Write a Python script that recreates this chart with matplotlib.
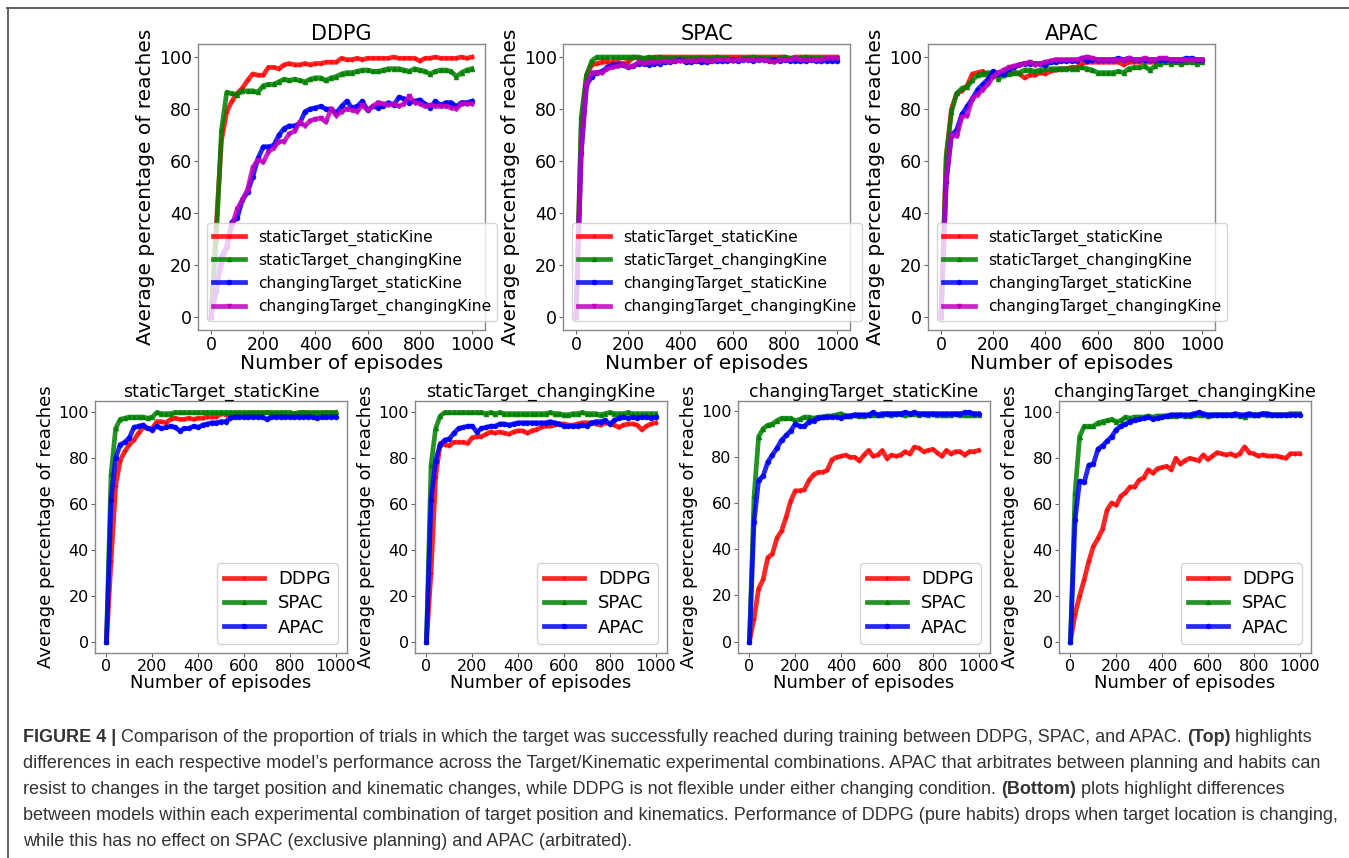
import numpy as np
import matplotlib
matplotlib.use("Agg")
import matplotlib.pyplot as plt
from matplotlib.lines import Line2D

# episodes (every 20)
episodes = np.arange(0, 1001, 20)

conditions = ["staticTarget_staticKine", "staticTarget_changingKine",
              "changingTarget_staticKine", "changingTarget_changingKine"]
models = ["DDPG", "SPAC", "APAC"]

# DDPG
ddpg_ss = [0, 35, 68, 79, 83, 86, 88, 91, 93.5, 93, 93, 96, 96, 95.5, 97, 97.5, 97, 97, 97.5, 97,
           97.5, 97.5, 98, 98, 98, 99.5, 99, 99, 99.5, 99, 99.5, 99.5, 99.5, 99.5, 99.5, 100, 99.5,
           99.5, 99.5, 99.5, 98.5, 99.5, 99.5, 100, 99.5, 99.5, 99.5, 99.5, 100, 99.5, 100]
ddpg_sc = [0, 30, 72, 86.5, 86, 85.5, 87, 87, 87, 86.5, 89, 89.5, 89.5, 90.5, 91.5, 91, 91.5, 91,
           90.5, 91.5, 92, 92, 91, 92, 92.5, 93.5, 94, 94, 94.5, 95, 95, 94.5, 94.5, 95, 95.5, 95.5,
           95.5, 95, 94.5, 95.5, 95, 94.5, 93.5, 94.5, 95, 95, 94.5, 92.5, 94, 95, 95.5]
ddpg_cs = [0, 10, 23, 27, 36.5, 38, 45, 48, 54, 61, 65.5, 65.5, 66, 70, 72.5, 73.5, 73.5, 74.5, 79,
           80, 80.5, 81, 80, 80, 78.5, 81, 83, 80.5, 81, 83, 79.5, 81, 80.5, 81, 82.5, 81.5, 84.5,
           84, 82.5, 83, 83.5, 82, 80.5, 83, 81.5, 82.5, 82.5, 81, 82.5, 82.5, 83]
ddpg_cc = [0, 12, 20, 27, 35, 41.5, 45, 49, 57.5, 60.5, 59.5, 63.5, 65, 67.5, 67.5, 70.5, 71.5, 75,
           73.5, 75.5, 76, 76.5, 75, 80, 77.5, 79, 80, 79.5, 79, 81.5, 79.5, 81, 82.5, 82, 81.5, 82,
           81, 82, 85, 82.5, 82, 81, 81.5, 81, 81, 81, 80.5, 80, 82, 82, 82]

# SPAC
spac_ss = [0, 73, 93, 97, 97.5, 98, 98, 98, 98, 97.5, 98, 100, 99.5, 99.5, 99.5, 100, 100, 100, 100,
           100, 100, 100, 100, 100, 100, 100, 100, 100, 100, 100, 100, 100, 100, 100, 100, 100, 100,
           100, 100, 100, 100, 99.5, 100, 100, 100, 100, 100, 100, 100, 100, 100]
spac_sc = [0, 77, 93, 98.5, 100, 100, 100, 100, 100, 100, 100, 100, 100, 99.5, 100, 99.5, 100, 99.5,
           99.5, 99.5, 99.5, 99.5, 99.5, 99.5, 99.5, 99.5, 99.5, 100, 99.5, 99.5, 99, 99, 99.5, 99.5,
           100, 99.5, 99.5, 99.5, 99, 99.5, 100, 99.5, 99.5, 99.5, 100, 99.5, 99.5, 99.5, 99.5, 99.5, 99.5]
spac_cs = [0, 63, 89, 92.5, 94, 94.5, 96, 97, 97, 97, 96, 96.5, 97.5, 97.5, 97, 97.5, 97.5, 98, 98,
           98.5, 99, 98, 98, 98.5, 98, 98, 98.5, 98.5, 98.5, 98.5, 99, 98.5, 99, 99, 98.5, 99, 99,
           98.5, 99, 98.5, 99, 98.5, 98.5, 98.5, 98.5, 99, 98.5, 98.5, 98.5, 98.5, 98.5]
spac_cc = [0, 65, 89.5, 94, 94, 94, 95.5, 96, 96.5, 97, 96, 96.5, 98, 97.5, 98, 98, 98, 98.5, 98,
           98.5, 98.5, 98.5, 98.5, 98.5, 99, 98.5, 98.5, 99, 99, 99, 98.5, 99, 99, 99, 99, 99, 99,
           98.5, 98, 99, 99, 99, 99.5, 99, 99, 99, 99, 99, 99.5, 99.5, 99.5]

# APAC
apac_ss = [0, 62, 80, 86, 87, 89, 93.5, 94, 94.5, 93, 92.5, 94, 93, 93.5, 94, 93.5, 92, 93, 93, 94,
           93.5, 94.5, 95, 95.5, 95.5, 96, 96, 97.5, 98, 98, 98, 98, 98, 98, 98, 97, 98, 98, 98, 98,
           98, 98, 98, 98, 98, 98, 97.5, 98, 98, 98, 98]
apac_sc = [0, 62, 79, 86, 88, 88.5, 91, 93, 93.5, 94, 94, 91.5, 93, 93.5, 94, 94, 95, 95, 94.5, 95,
           95.5, 95.5, 95.5, 95.5, 95.5, 95.5, 95.5, 96, 95.5, 95, 94, 94, 94, 94, 94.5, 94, 95.5,
           96, 96, 96.5, 95, 96.5, 97.5, 98, 97.5, 98, 97.5, 98, 98, 97.5, 98]
apac_cs = [0, 52, 70, 72, 78, 81, 84, 87.5, 89.5, 91.5, 94.5, 93.5, 93.5, 95.5, 96, 97, 97.5, 97.5,
           97.5, 97.5, 97, 98, 98, 98.5, 98.5, 98.5, 98.5, 99.5, 98.5, 99, 99, 99, 99, 99, 99.5, 99,
           99.5, 99, 99, 99, 99, 99, 99, 99, 99, 99, 99, 99.5, 99.5, 99, 99]
apac_cc = [0, 53, 70, 69.5, 77, 77.5, 84, 85.5, 87.5, 89.5, 92.5, 94, 95, 96, 96.5, 97, 97.5, 98, 97,
           97.5, 98, 98.5, 99, 99, 99, 99, 99, 99.5, 100, 99.5, 99, 99, 99, 99, 99, 99, 99.5, 99, 99,
           99.5, 99, 99, 99.5, 99.5, 99, 99, 99, 99, 99, 99, 99]

data = {
    "DDPG": [ddpg_ss, ddpg_sc, ddpg_cs, ddpg_cc],
    "SPAC": [spac_ss, spac_sc, spac_cs, spac_cc],
    "APAC": [apac_ss, apac_sc, apac_cs, apac_cc],
}

cond_colors = ["#ff0000", "#008000", "#0000ff", "#bf00bf"]
cond_markers = ["+", "^", "o", "v"]
model_colors = ["#ff0000", "#008000", "#0000ff"]
model_markers = ["+", "^", "o"]

fig = plt.figure(figsize=(13.49, 8.58), dpi=100)


def style_axes(ax, tick_fs):
    for s in ax.spines.values():
        s.set_color("#888888")
        s.set_linewidth(1.0)
    ax.tick_params(labelsize=tick_fs, length=3, pad=1.5, color="#666666")
    ax.set_xticks([0, 200, 400, 600, 800, 1000])
    ax.set_yticks([0, 20, 40, 60, 80, 100])


# top row: one panel per model
top_lefts = [198, 563, 928]
for i, m in enumerate(models):
    ax = fig.add_axes([top_lefts[i] / 1349, 1 - 330 / 858, 287 / 1349, 286 / 858])
    for j, c in enumerate(conditions):
        ax.plot(episodes, data[m][j], color=cond_colors[j], lw=3.4, alpha=0.85,
                marker=cond_markers[j], ms=3, label=c)
    style_axes(ax, 12.5)
    ax.set_title(m, fontsize=15, pad=3)
    ax.set_xlabel("Number of episodes", fontsize=14.5, labelpad=0)
    ax.set_ylabel("Average percentage of reaches", fontsize=14.5, labelpad=3)
    ax.legend(loc="lower left", bbox_to_anchor=(0.03, 0.03), borderaxespad=0,
              fontsize=11.2, handlelength=2.1, labelspacing=0.45, framealpha=0.8)

# bottom row: one panel per condition
bot_lefts = [95, 415, 738, 1059]
for j, c in enumerate(conditions):
    ax = fig.add_axes([bot_lefts[j] / 1349, 1 - 653 / 858, 252 / 1349, 252 / 858])
    for i, m in enumerate(models):
        ax.plot(episodes, data[m][j], color=model_colors[i], lw=3.4, alpha=0.85,
                marker=model_markers[i], ms=3, label=m)
    style_axes(ax, 11.5)
    ax.set_title(c, fontsize=12.5, pad=2)
    ax.set_xlabel("Number of episodes", fontsize=13, labelpad=0)
    ax.set_ylabel("Average percentage of reaches", fontsize=13, labelpad=2)
    ax.legend(loc="lower right", fontsize=13, handlelength=2.2, labelspacing=0.35,
              framealpha=0.8)

# frame lines (top and left)
fig.add_artist(Line2D([7 / 1349, 1], [1 - 8 / 858, 1 - 8 / 858], color="#555555", lw=1.3))
fig.add_artist(Line2D([8 / 1349, 8 / 1349], [0, 1 - 8 / 858], color="#555555", lw=1.3))

# caption
caption = [
    [("FIGURE 4 | ", "bold"),
     ("Comparison of the proportion of trials in which the target was successfully reached during training between DDPG, SPAC, and APAC. ", "normal"),
     ("(Top)", "bold"), (" highlights", "normal")],
    [("differences in each respective model\u2019s performance across the Target/Kinematic experimental combinations. APAC that arbitrates between planning and habits can", "normal")],
    [("resist to changes in the target position and kinematic changes, while DDPG is not flexible under either changing condition. ", "normal"),
     ("(Bottom)", "bold"), (" plots highlight differences", "normal")],
    [("between models within each experimental combination of target position and kinematics. Performance of DDPG (pure habits) drops when target location is changing,", "normal")],
    [("while this has no effect on SPAC (exclusive planning) and APAC (arbitrated).", "normal")],
]
cap_y = [737, 763, 789, 815, 841]

renderer = fig.canvas.get_renderer()
for line, y in zip(caption, cap_y):
    x = 23
    for txt, w in line:
        t = fig.text(x / 1349, 1 - y / 858, txt, fontsize=13, fontweight=w,
                     family="Liberation Sans", color="#333333", va="center", ha="left")
        bb = t.get_window_extent(renderer=renderer)
        x += bb.width

fig.savefig("out.png", dpi=100)
